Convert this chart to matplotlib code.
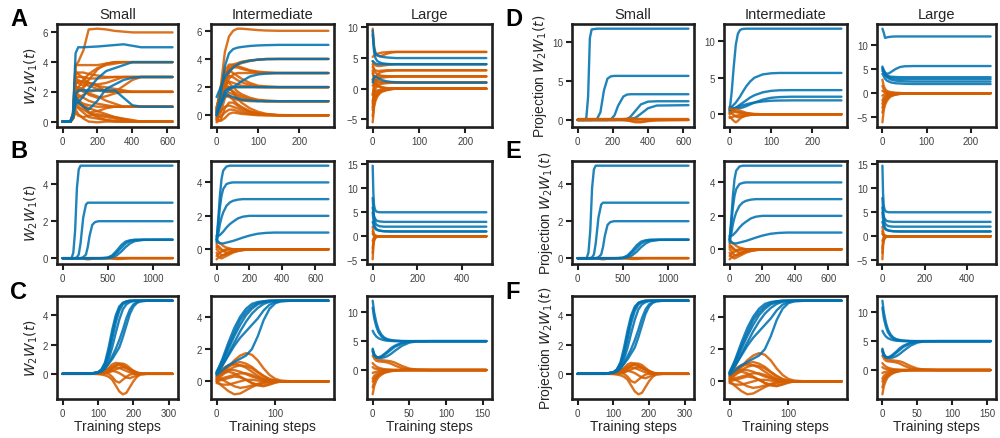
import matplotlib.pyplot as plt

BLUE = '#0173b2'
ORANGE = '#d55e00'

# ---------------- A / D : first setting ----------------
t_a_small = [0, 45, 60, 75, 90, 120, 150, 200, 250, 300, 350, 400, 450, 500, 630]
blue_a_small = [
    [0, 0, 0.5, 4.6, 5.0, 5.0, 5.02, 5.05, 5.1, 5.15, 5.2, 5.1, 5.0, 5.0, 5.0],
    [0, 0, 0.3, 1.2, 1.3, 1.7, 2.2, 2.9, 3.4, 3.6, 3.8, 4.0, 4.0, 4.0, 4.0],
    [0, 0, 0.4, 1.9, 2.1, 2.1, 2.1, 2.1, 2.1, 2.1, 1.6, 1.1, 1.0, 1.0, 1.0],
    [0, 0, 0.3, 1.7, 1.3, 1.0, 0.8, 1.4, 2.2, 2.5, 2.8, 2.95, 3.0, 3.0, 3.0],
]
orange_a_small = [
    [0, 0, 0.6, 3.8, 4.0, 4.8, 6.2, 6.25, 6.2, 6.1, 6.05, 6.0, 6.0, 6.0, 6.0],
    [0, 0, 0.5, 3.8, 3.8, 3.8, 3.8, 3.8, 3.9, 4.0, 4.0, 4.0, 4.0, 4.0, 4.0],
    [0, 0, 0.4, 2.8, 2.6, 2.4, 2.8, 3.5, 3.9, 4.0, 4.0, 4.0, 4.0, 4.0, 4.0],
    [0, 0, 0.4, 3.0, 3.0, 3.0, 2.9, 2.9, 2.95, 3.0, 3.0, 3.0, 3.0, 3.0, 3.0],
    [0, 0, 0.3, 2.5, 2.7, 2.7, 2.6, 2.5, 2.6, 2.8, 3.0, 3.0, 3.0, 3.0, 3.0],
    [0, 0, 0.3, 1.8, 2.0, 2.3, 2.6, 2.4, 2.0, 2.0, 2.4, 2.8, 3.0, 3.0, 3.0],
    [0, 0, 0.4, 2.9, 2.8, 2.6, 2.4, 2.2, 2.1, 2.0, 2.0, 2.0, 2.0, 2.0, 2.0],
    [0, 0, 0.3, 2.2, 2.3, 2.2, 1.8, 1.6, 1.7, 1.9, 2.0, 2.0, 2.0, 2.0, 2.0],
    [0, 0, 0.3, 1.5, 1.6, 1.8, 2.0, 2.1, 2.0, 2.0, 2.0, 2.0, 2.0, 2.0, 2.0],
    [0, 0, 0.3, 2.0, 1.8, 1.6, 1.4, 1.2, 1.1, 1.0, 1.0, 1.0, 1.0, 1.0, 1.0],
    [0, 0, 0.2, 1.2, 1.0, 0.8, 0.6, 0.7, 0.9, 1.0, 1.0, 1.0, 1.0, 1.0, 1.0],
    [0, 0, 0.2, 1.5, 1.4, 1.2, 1.1, 1.0, 1.0, 1.0, 1.0, 1.0, 1.0, 1.0, 1.0],
    [0, 0, 0.2, 1.0, 0.9, 0.6, 0.3, 0.2, 0.1, 0.05, 0, 0, 0, 0, 0],
    [0, 0, 0.2, 0.8, 0.5, 0.2, 0.0, -0.05, 0, 0, 0, 0, 0, 0, 0],
    [0, 0, 0.3, 2.0, 1.5, 1.0, 0.6, 0.4, 0.3, 0.2, 0.1, 0, 0, 0, 0],
    [0, 0, 0.2, 1.4, 1.2, 1.0, 0.6, 0.3, 0.1, 0, 0, 0, 0, 0, 0],
    [0, 0, 0.3, 2.4, 2.2, 2.0, 1.9, 1.7, 1.4, 1.2, 1.0, 1.0, 1.0, 1.0, 1.0],
    [0, 0, 0.3, 3.2, 3.3, 3.3, 3.2, 3.1, 3.0, 3.0, 3.0, 3.0, 3.0, 3.0, 3.0],
    [0, 0, 0.2, 0.6, 0.4, 0.3, 0.4, 0.5, 0.4, 0.3, 0.2, 0.1, 0, 0, 0],
    [0, 0, 0.3, 2.0, 2.3, 2.8, 3.2, 3.6, 3.8, 3.9, 4.0, 4.0, 4.0, 4.0, 4.0],
    [0, 0, 0.4, 3.4, 3.2, 2.9, 2.6, 2.4, 2.3, 2.2, 2.1, 2.0, 2.0, 2.0, 2.0],
    [0, 0, 0.2, 1.2, 1.3, 1.1, 0.9, 0.7, 0.5, 0.3, 0.15, 0.05, 0, 0, 0],
]

t_a_mid = [0, 10, 20, 30, 40, 50, 60, 80, 100, 120, 150, 200, 270]
blue_a_mid = [
    [0.2, 1.5, 3.5, 4.4, 4.7, 4.8, 4.85, 4.92, 4.96, 4.98, 5.0, 5.0, 5.0],
    [1.3, 2.0, 2.7, 3.1, 3.4, 3.6, 3.75, 3.88, 3.95, 3.98, 4.0, 4.0, 4.0],
    [0.0, 0.8, 1.5, 1.8, 2.0, 2.2, 2.4, 2.75, 2.9, 2.96, 3.0, 3.0, 3.0],
    [0.1, 0.7, 1.4, 1.4, 1.3, 1.2, 1.1, 1.05, 1.0, 1.0, 1.0, 1.0, 1.0],
    [0.0, 0.9, 1.7, 1.95, 2.0, 2.0, 2.0, 2.0, 2.0, 2.0, 2.0, 2.0, 2.0],
]
orange_a_mid = [
    [0.3, 2.0, 4.5, 5.6, 6.0, 6.15, 6.15, 6.1, 6.05, 6.02, 6.0, 6.0, 6.0],
    [0.5, 1.5, 2.8, 3.4, 3.6, 3.7, 3.8, 3.9, 3.95, 4.0, 4.0, 4.0, 4.0],
    [-0.3, 0.8, 2.2, 3.0, 3.4, 3.6, 3.7, 3.85, 3.95, 4.0, 4.0, 4.0, 4.0],
    [0.4, 1.8, 3.2, 3.6, 3.6, 3.5, 3.4, 3.2, 3.1, 3.05, 3.0, 3.0, 3.0],
    [0.0, 1.5, 2.8, 3.3, 3.4, 3.4, 3.3, 3.15, 3.05, 3.0, 3.0, 3.0, 3.0],
    [-0.2, 0.8, 2.0, 2.6, 2.9, 3.0, 3.0, 3.0, 3.0, 3.0, 3.0, 3.0, 3.0],
    [0.5, 2.0, 3.0, 3.2, 3.0, 2.8, 2.6, 2.3, 2.1, 2.05, 2.0, 2.0, 2.0],
    [-0.1, 1.0, 2.1, 2.4, 2.3, 2.2, 2.1, 2.05, 2.0, 2.0, 2.0, 2.0, 2.0],
    [0.2, 1.2, 1.8, 2.0, 2.0, 2.0, 2.0, 2.0, 2.0, 2.0, 2.0, 2.0, 2.0],
    [0.4, 1.8, 2.5, 2.3, 2.0, 1.7, 1.5, 1.25, 1.1, 1.05, 1.0, 1.0, 1.0],
    [-0.4, 0.2, 1.2, 1.6, 1.5, 1.35, 1.2, 1.1, 1.05, 1.0, 1.0, 1.0, 1.0],
    [0.1, 0.9, 1.4, 1.3, 1.2, 1.1, 1.05, 1.0, 1.0, 1.0, 1.0, 1.0, 1.0],
    [0.3, 1.5, 2.2, 2.0, 1.6, 1.2, 0.9, 0.5, 0.25, 0.1, 0.02, 0, 0],
    [-0.5, -0.3, 0.5, 0.9, 0.9, 0.7, 0.5, 0.25, 0.1, 0.05, 0, 0, 0],
    [-0.3, -0.4, -0.2, 0.1, 0.2, 0.15, 0.1, 0.05, 0, 0, 0, 0, 0],
    [0.6, 1.2, 1.6, 1.4, 1.1, 0.8, 0.6, 0.3, 0.15, 0.05, 0, 0, 0],
    [0.0, 0.3, 0.6, 0.7, 0.6, 0.5, 0.35, 0.2, 0.1, 0.03, 0, 0, 0],
    [-0.2, -0.1, 0.2, 0.4, 0.4, 0.3, 0.2, 0.1, 0.05, 0, 0, 0, 0],
    [0.2, 1.3, 2.0, 1.9, 1.7, 1.5, 1.35, 1.15, 1.05, 1.0, 1.0, 1.0, 1.0],
    [0.0, 1.4, 2.5, 2.8, 2.7, 2.5, 2.35, 2.15, 2.05, 2.0, 2.0, 2.0, 2.0],
]

t_a_large = [0, 3, 6, 10, 15, 20, 30, 40, 50, 70, 100, 245]
blue_a_large = [
    [8.8, 6.5, 5.8, 5.5, 5.3, 5.2, 5.1, 5.05, 5.0, 5.0, 5.0, 5.0],
    [4.5, 4.3, 4.1, 4.0, 4.0, 4.0, 4.0, 4.0, 4.0, 4.0, 4.0, 4.0],
    [9.5, 6.0, 5.0, 4.5, 4.3, 4.15, 4.05, 4.0, 4.0, 4.0, 4.0, 4.0],
    [1.0, 2.0, 2.0, 1.8, 1.6, 1.4, 1.2, 1.1, 1.05, 1.0, 1.0, 1.0],
]
orange_a_large = [
    [9.8, 7.0, 5.8, 5.4, 5.3, 5.4, 5.7, 5.9, 6.0, 6.0, 6.0, 6.0],
    [5.2, 5.4, 5.6, 5.7, 5.8, 5.9, 5.95, 6.0, 6.0, 6.0, 6.0, 6.0],
    [4.5, 4.0, 3.8, 3.7, 3.7, 3.75, 3.85, 3.95, 4.0, 4.0, 4.0, 4.0],
    [3.5, 3.2, 3.0, 2.9, 2.9, 2.95, 3.0, 3.0, 3.0, 3.0, 3.0, 3.0],
    [-1.0, 0.8, 1.8, 2.3, 2.6, 2.75, 2.9, 2.95, 3.0, 3.0, 3.0, 3.0],
    [4.0, 3.0, 2.6, 2.4, 2.2, 2.1, 2.05, 2.0, 2.0, 2.0, 2.0, 2.0],
    [-2.5, 0.0, 1.0, 1.5, 1.7, 1.8, 1.9, 1.95, 2.0, 2.0, 2.0, 2.0],
    [1.5, 1.8, 1.9, 1.95, 2.0, 2.0, 2.0, 2.0, 2.0, 2.0, 2.0, 2.0],
    [2.5, 1.8, 1.5, 1.3, 1.2, 1.1, 1.05, 1.0, 1.0, 1.0, 1.0, 1.0],
    [-3.5, -1.0, 0.0, 0.5, 0.7, 0.8, 0.9, 0.95, 1.0, 1.0, 1.0, 1.0],
    [0.5, 0.8, 0.9, 0.95, 1.0, 1.0, 1.0, 1.0, 1.0, 1.0, 1.0, 1.0],
    [-5.5, -3.0, -2.0, -1.3, -0.8, -0.5, -0.25, -0.1, 0, 0, 0, 0],
    [-4.5, -2.5, -1.5, -1.0, -0.6, -0.4, -0.2, -0.05, 0, 0, 0, 0],
    [-2.0, -1.2, -0.8, -0.5, -0.3, -0.2, -0.1, 0, 0, 0, 0, 0],
    [1.5, 0.9, 0.6, 0.4, 0.25, 0.15, 0.05, 0, 0, 0, 0, 0],
    [-1.0, -0.6, -0.4, -0.3, -0.2, -0.1, -0.05, 0, 0, 0, 0, 0],
    [3.0, 1.6, 1.0, 0.6, 0.4, 0.25, 0.1, 0.05, 0, 0, 0, 0],
    [-3.0, -1.8, -1.2, -0.8, -0.5, -0.3, -0.15, -0.05, 0, 0, 0, 0],
]

t_d_small = [0, 40, 50, 60, 70, 80, 110, 130, 150, 170, 190, 210, 230, 260, 280, 300, 330, 360, 400, 450, 630]
blue_d_small = [
    [0, 0, 0.3, 3.0, 10.5, 11.6, 11.7, 11.7, 11.7, 11.7, 11.7, 11.7, 11.7, 11.7, 11.7, 11.7, 11.7, 11.7, 11.7, 11.7, 11.7],
    [0, 0, 0, 0, 0, 0, 0.1, 1.0, 3.8, 5.3, 5.6, 5.65, 5.65, 5.65, 5.65, 5.65, 5.65, 5.65, 5.65, 5.65, 5.65],
    [0, 0, 0, 0, 0, 0, 0, 0, 0, 0, 0.1, 0.6, 1.8, 3.0, 3.25, 3.3, 3.3, 3.3, 3.3, 3.3, 3.3],
    [0, 0, 0, 0, 0, 0, 0, 0, 0, 0, 0, 0, 0, 0, 0.1, 0.4, 1.2, 2.0, 2.35, 2.4, 2.4],
    [0, 0, 0, 0, 0, 0, 0, 0, 0, 0, 0, 0, 0, 0, 0, 0.1, 0.3, 0.8, 1.5, 1.85, 1.9],
]
orange_d_small = [
    [0.1, 0.1, 0.1, 0.1, 0.1, 0.1, 0.1, 0.1, 0.1, 0.1, 0.1, 0.1, 0.1, 0.1, 0.1, 0.1, 0.1, 0.1, 0.1, 0.1, 0.1],
    [0, 0, 0, 0, 0, 0, 0, 0, 0, 0, 0, 0, 0, 0, -0.05, -0.15, -0.3, -0.3, -0.15, -0.05, 0],
    [0.05, 0.05, 0.05, 0.05, 0.05, 0.05, 0.05, 0.05, 0.05, 0.05, 0.05, 0.05, 0.05, 0.0, -0.05, -0.1, -0.15, -0.2, -0.1, 0, 0.05],
    [0, 0, 0, 0, 0, 0, 0, 0, 0, 0, 0, 0, 0.05, 0.1, 0.15, 0.2, 0.15, 0.1, 0.05, 0, 0],
]

t_d_mid = [0, 5, 10, 15, 20, 25, 30, 40, 50, 60, 80, 100, 120, 150, 200, 270]
blue_d_mid = [
    [0.5, 3.0, 6.5, 9.5, 11.0, 11.5, 11.65, 11.7, 11.7, 11.7, 11.7, 11.7, 11.7, 11.7, 11.7, 11.7],
    [0.8, 1.0, 1.3, 1.6, 2.0, 2.4, 2.9, 3.8, 4.5, 5.0, 5.45, 5.6, 5.65, 5.65, 5.65, 5.65],
    [0.3, 0.5, 0.7, 0.9, 1.1, 1.3, 1.5, 1.9, 2.3, 2.6, 3.0, 3.2, 3.28, 3.3, 3.3, 3.3],
    [1.0, 0.9, 0.8, 0.8, 0.8, 0.85, 0.9, 1.1, 1.35, 1.6, 2.0, 2.25, 2.35, 2.4, 2.4, 2.4],
    [0.6, 0.7, 0.8, 0.9, 1.0, 1.1, 1.2, 1.35, 1.5, 1.6, 1.75, 1.85, 1.88, 1.9, 1.9, 1.9],
]
orange_d_mid = [
    [0.8, 0.7, 0.5, 0.4, 0.3, 0.25, 0.2, 0.1, 0.05, 0, 0, 0, 0, 0, 0, 0],
    [-0.3, -0.6, -0.9, -1.1, -0.9, -0.6, -0.4, -0.2, -0.1, -0.05, 0, 0, 0, 0, 0, 0],
    [0.0, 0.3, 0.6, 0.7, 0.6, 0.5, 0.4, 0.2, 0.1, 0.05, 0, 0, 0, 0, 0, 0],
    [-0.5, -0.4, -0.3, -0.2, -0.15, -0.1, -0.08, -0.05, 0, 0, 0, 0, 0, 0, 0, 0],
    [0.3, 0.1, -0.1, -0.3, -0.4, -0.35, -0.3, -0.15, -0.05, 0, 0, 0, 0, 0, 0, 0],
    [0.1, 0.2, 0.3, 0.3, 0.25, 0.2, 0.15, 0.1, 0.05, 0, 0, 0, 0, 0, 0, 0],
]

t_d_large = [0, 3, 6, 10, 15, 20, 30, 40, 50, 70, 100, 245]
blue_d_large = [
    [13.3, 12.5, 11.4, 11.5, 11.6, 11.65, 11.7, 11.7, 11.7, 11.7, 11.7, 11.7],
    [5.5, 4.8, 4.3, 4.0, 4.1, 4.4, 5.0, 5.4, 5.55, 5.6, 5.6, 5.6],
    [5.0, 4.5, 4.0, 3.7, 3.5, 3.4, 3.35, 3.3, 3.3, 3.3, 3.3, 3.3],
    [4.6, 4.2, 3.8, 3.5, 3.3, 3.1, 3.0, 2.95, 2.9, 2.9, 2.9, 2.9],
    [5.2, 4.5, 3.8, 3.3, 3.0, 2.8, 2.6, 2.5, 2.45, 2.4, 2.4, 2.4],
    [4.0, 3.5, 3.0, 2.6, 2.4, 2.2, 2.05, 2.0, 1.95, 1.9, 1.9, 1.9],
]
orange_d_large = [
    [2.8, 1.5, 0.9, 0.5, 0.3, 0.2, 0.1, 0.05, 0, 0, 0, 0],
    [-6.0, -3.5, -2.4, -1.6, -1.0, -0.6, -0.3, -0.15, -0.05, 0, 0, 0],
    [-4.0, -2.6, -1.8, -1.2, -0.8, -0.5, -0.25, -0.1, 0, 0, 0, 0],
    [-3.0, -2.0, -1.4, -0.9, -0.6, -0.4, -0.2, -0.1, 0, 0, 0, 0],
    [1.5, 0.8, 0.4, 0.2, 0.1, 0.05, 0, 0, 0, 0, 0, 0],
    [-1.5, -0.9, -0.6, -0.4, -0.25, -0.15, -0.05, 0, 0, 0, 0, 0],
    [-0.5, -0.3, -0.2, -0.1, 0, 0, 0, 0, 0, 0, 0, 0],
    [0.5, 0.3, 0.2, 0.1, 0.05, 0, 0, 0, 0, 0, 0, 0],
    [-2.2, -1.3, -0.9, -0.6, -0.4, -0.25, -0.1, -0.05, 0, 0, 0, 0],
]

# ---------------- B / E : second setting ----------------
t_b_small = [0, 100, 120, 140, 160, 180, 200, 230, 260, 280, 300, 330, 360, 400, 450, 500, 550, 600, 650, 700, 750, 800, 900, 1220]
blue_b_small = [
    [0, 0, 0.3, 1.5, 3.8, 4.8, 5.0, 5.0, 5.0, 5.0, 5.0, 5.0, 5.0, 5.0, 5.0, 5.0, 5.0, 5.0, 5.0, 5.0, 5.0, 5.0, 5.0, 5.0],
    [0, 0, 0, 0, 0.05, 0.2, 0.8, 2.2, 2.9, 3.0, 3.0, 3.0, 3.0, 3.0, 3.0, 3.0, 3.0, 3.0, 3.0, 3.0, 3.0, 3.0, 3.0, 3.0],
    [0, 0, 0, 0, 0, 0, 0, 0.05, 0.2, 0.6, 1.2, 1.8, 1.95, 2.0, 2.0, 2.0, 2.0, 2.0, 2.0, 2.0, 2.0, 2.0, 2.0, 2.0],
    [0, 0, 0, 0, 0, 0, 0, 0, 0, 0, 0, 0, 0, 0, 0, 0.02, 0.1, 0.3, 0.55, 0.8, 0.93, 0.98, 1.0, 1.0],
    [0, 0, 0, 0, 0, 0, 0, 0, 0, 0, 0, 0, 0, 0, 0, 0.0, 0.05, 0.15, 0.35, 0.6, 0.8, 0.92, 0.99, 1.0],
    [0, 0, 0, 0, 0, 0, 0, 0, 0, 0, 0, 0, 0, 0, 0.01, 0.03, 0.15, 0.4, 0.7, 0.9, 0.97, 1.0, 1.0, 1.0],
]
orange_b_small = [
    [0, 0, 0, 0, 0, 0, 0, -0.02, -0.05, -0.06, -0.05, -0.03, -0.01, 0, 0, 0, 0, 0, 0, 0, 0, 0, 0, 0],
    [0.02, 0.02, 0.02, 0.02, 0.02, 0.02, 0.02, 0.02, 0.02, 0.02, 0.02, 0.02, 0.02, 0.02, 0.02, 0.02, 0.02, 0.02, 0.02, 0.02, 0.02, 0.02, 0.02, 0.02],
    [0, 0, 0, 0, 0, 0, 0, 0, 0, 0, 0, 0, 0, 0, 0, 0, -0.02, -0.04, -0.04, -0.02, 0, 0, 0, 0],
]

t_b_mid = [0, 10, 20, 30, 40, 60, 80, 100, 130, 160, 200, 250, 300, 350, 400, 680]
blue_b_mid = [
    [0.5, 1.8, 3.2, 4.2, 4.7, 4.95, 5.0, 5.0, 5.0, 5.0, 5.0, 5.0, 5.0, 5.0, 5.0, 5.0],
    [0.6, 1.5, 2.5, 3.2, 3.6, 3.9, 3.97, 4.0, 4.0, 4.0, 4.0, 4.0, 4.0, 4.0, 4.0, 4.0],
    [0.4, 0.9, 1.5, 1.9, 2.2, 2.6, 2.8, 2.9, 2.97, 3.0, 3.0, 3.0, 3.0, 3.0, 3.0, 3.0],
    [0.8, 0.8, 0.85, 0.95, 1.05, 1.3, 1.5, 1.65, 1.85, 1.95, 2.0, 2.0, 2.0, 2.0, 2.0, 2.0],
    [0.6, 0.45, 0.38, 0.35, 0.35, 0.4, 0.45, 0.5, 0.6, 0.7, 0.82, 0.93, 0.98, 1.0, 1.0, 1.0],
]
orange_b_mid = [
    [0.3, 0.4, 0.35, 0.3, 0.2, 0.1, 0.05, 0, 0, 0, 0, 0, 0, 0, 0, 0],
    [-0.2, -0.4, -0.5, -0.55, -0.5, -0.4, -0.3, -0.2, -0.1, -0.05, 0, 0, 0, 0, 0, 0],
    [0.1, 0.2, 0.1, 0.0, -0.1, -0.2, -0.2, -0.15, -0.1, -0.05, 0, 0, 0, 0, 0, 0],
    [-0.4, -0.3, -0.2, -0.15, -0.1, -0.05, 0, 0, 0, 0, 0, 0, 0, 0, 0, 0],
    [0.0, -0.1, -0.25, -0.35, -0.35, -0.3, -0.2, -0.1, -0.05, 0, 0, 0, 0, 0, 0, 0],
    [0.2, 0.1, 0.0, -0.05, -0.05, 0, 0, 0, 0, 0, 0, 0, 0, 0, 0, 0],
    [-0.6, -0.5, -0.45, -0.4, -0.35, -0.25, -0.15, -0.08, -0.03, 0, 0, 0, 0, 0, 0, 0],
]

t_b_large = [0, 3, 6, 10, 15, 20, 30, 50, 80, 510]
blue_b_large = [
    [14.7, 9.0, 6.5, 5.6, 5.2, 5.1, 5.0, 5.0, 5.0, 5.0],
    [6.0, 5.0, 4.2, 3.7, 3.4, 3.2, 3.1, 3.0, 3.0, 3.0],
    [8.0, 5.5, 4.0, 3.0, 2.5, 2.3, 2.1, 2.0, 2.0, 2.0],
    [5.0, 3.5, 2.6, 2.0, 1.6, 1.4, 1.2, 1.05, 1.0, 1.0],
    [3.0, 2.5, 2.0, 1.7, 1.4, 1.3, 1.15, 1.05, 1.0, 1.0],
]
orange_b_large = [
    [2.0, 1.0, 0.5, 0.2, 0.1, 0.05, 0, 0, 0, 0],
    [-4.8, -2.0, -1.0, -0.5, -0.2, -0.1, 0, 0, 0, 0],
    [-2.5, -1.2, -0.6, -0.3, -0.15, -0.05, 0, 0, 0, 0],
    [1.0, 0.5, 0.2, 0.1, 0.05, 0, 0, 0, 0, 0],
    [-1.0, -0.5, -0.2, -0.1, 0, 0, 0, 0, 0, 0],
    [0.5, 0.3, 0.1, 0, 0, 0, 0, 0, 0, 0],
    [-3.5, -1.5, -0.8, -0.4, -0.2, -0.1, 0, 0, 0, 0],
]

# ---------------- C / F : third setting ----------------
t_c_small = [0, 80, 100, 110, 120, 130, 140, 150, 160, 170, 180, 190, 200, 210, 220, 240, 310]
blue_c_small = [
    [0, 0.02, 0.1, 0.3, 0.8, 1.8, 3.0, 4.0, 4.6, 4.85, 4.95, 5.0, 5.0, 5.0, 5.0, 5.0, 5.0],
    [0, 0.02, 0.1, 0.25, 0.6, 1.3, 2.4, 3.5, 4.3, 4.75, 4.9, 4.97, 5.0, 5.0, 5.0, 5.0, 5.0],
    [0, 0.02, 0.08, 0.2, 0.5, 1.0, 1.8, 2.8, 3.7, 4.4, 4.75, 4.9, 4.97, 5.0, 5.0, 5.0, 5.0],
    [0, 0.02, 0.08, 0.15, 0.35, 0.7, 1.2, 1.7, 2.3, 3.0, 3.8, 4.4, 4.75, 4.9, 4.97, 5.0, 5.0],
    [0, 0.02, 0.1, 0.2, 0.4, 0.7, 1.0, 1.4, 1.8, 2.5, 3.3, 4.1, 4.6, 4.85, 4.95, 5.0, 5.0],
    [0, 0.02, 0.1, 0.3, 0.7, 1.5, 2.7, 3.8, 4.5, 4.85, 4.95, 5.0, 5.0, 5.0, 5.0, 5.0, 5.0],
]
orange_c_small = [
    [0, 0, 0.05, 0.1, 0.2, 0.4, 0.65, 0.75, 0.7, 0.6, 0.45, 0.3, 0.15, 0.05, 0, 0, 0],
    [0, 0, 0.05, 0.1, 0.2, 0.35, 0.5, 0.6, 0.6, 0.5, 0.4, 0.25, 0.12, 0.05, 0, 0, 0],
    [0, 0, 0.03, 0.05, 0.1, 0.2, 0.4, 0.55, 0.7, 0.7, 0.6, 0.4, 0.2, 0.08, 0.02, 0, 0],
    [0, 0, 0.02, 0.05, 0.05, 0.0, -0.2, -0.5, -0.6, -0.4, -0.2, -0.05, 0, 0, 0, 0, 0],
    [0, 0, -0.02, -0.05, -0.1, -0.2, -0.4, -0.8, -1.2, -1.4, -1.3, -0.9, -0.5, -0.2, -0.05, 0, 0],
    [0, 0, 0.02, 0.05, 0.1, 0.15, 0.2, 0.15, 0.05, -0.1, -0.25, -0.3, -0.2, -0.1, -0.02, 0, 0],
    [0, 0, 0.02, 0.05, 0.1, 0.2, 0.35, 0.45, 0.4, 0.3, 0.2, 0.1, 0.05, 0, 0, 0, 0],
    [0, 0, 0.02, 0.03, 0.05, 0.1, 0.2, 0.3, 0.4, 0.45, 0.4, 0.3, 0.2, 0.1, 0.03, 0, 0],
]

t_c_mid = [0, 10, 20, 30, 40, 50, 60, 70, 80, 90, 100, 110, 130, 190]
blue_c_mid = [
    [0.5, 1.4, 2.4, 3.3, 4.0, 4.5, 4.8, 4.92, 4.97, 5.0, 5.0, 5.0, 5.0, 5.0],
    [0.55, 1.2, 2.0, 2.8, 3.5, 4.1, 4.5, 4.78, 4.9, 4.97, 5.0, 5.0, 5.0, 5.0],
    [0.45, 1.0, 1.7, 2.4, 3.1, 3.7, 4.2, 4.55, 4.8, 4.93, 4.98, 5.0, 5.0, 5.0],
    [0.5, 1.0, 1.6, 2.2, 2.7, 3.1, 3.5, 3.9, 4.4, 4.75, 4.92, 4.98, 5.0, 5.0],
    [0.4, 0.7, 1.0, 1.2, 1.4, 1.6, 2.0, 2.8, 3.8, 4.5, 4.85, 4.96, 5.0, 5.0],
    [0.6, 1.3, 2.2, 3.0, 3.8, 4.3, 4.65, 4.85, 4.95, 5.0, 5.0, 5.0, 5.0, 5.0],
]
orange_c_mid = [
    [0.2, 0.5, 0.9, 1.3, 1.6, 1.75, 1.65, 1.3, 0.8, 0.4, 0.15, 0.05, 0, 0],
    [0.3, 0.6, 0.9, 1.1, 1.2, 1.1, 0.9, 0.6, 0.35, 0.15, 0.05, 0, 0, 0],
    [0.1, 0.4, 0.7, 0.9, 1.0, 0.95, 0.8, 0.55, 0.3, 0.12, 0.04, 0, 0, 0],
    [0.0, -0.3, -0.6, -0.8, -0.75, -0.55, -0.35, -0.2, -0.1, -0.05, 0, 0, 0, 0],
    [0.2, 0.1, -0.1, -0.3, -0.4, -0.35, -0.25, -0.15, -0.05, 0, 0, 0, 0, 0],
    [0.4, 0.6, 0.7, 0.7, 0.6, 0.45, 0.3, 0.18, 0.08, 0.03, 0, 0, 0, 0],
    [0.1, 0.2, 0.3, 0.4, 0.5, 0.5, 0.4, 0.25, 0.12, 0.05, 0, 0, 0, 0],
    [-0.1, -0.2, -0.2, -0.1, 0.0, 0.1, 0.1, 0.05, 0, 0, 0, 0, 0, 0],
    [0.3, 0.5, 0.6, 0.5, 0.3, 0.1, -0.1, -0.25, -0.3, -0.2, -0.08, 0, 0, 0],
    [0.0, 0.1, 0.2, 0.3, 0.25, 0.1, -0.1, -0.2, -0.25, -0.15, -0.05, 0, 0, 0],
    [0.5, 0.8, 1.0, 1.05, 1.0, 0.85, 0.6, 0.35, 0.15, 0.05, 0, 0, 0, 0],
]

t_c_large = [0, 2, 5, 8, 12, 16, 20, 25, 30, 40, 50, 60, 80, 155]
blue_c_large = [
    [12.0, 10.0, 8.2, 7.0, 6.1, 5.6, 5.35, 5.2, 5.1, 5.02, 5.0, 5.0, 5.0, 5.0],
    [10.8, 9.0, 7.5, 6.5, 5.8, 5.4, 5.2, 5.1, 5.05, 5.0, 5.0, 5.0, 5.0, 5.0],
    [6.8, 6.3, 5.8, 5.5, 5.3, 5.15, 5.08, 5.03, 5.0, 5.0, 5.0, 5.0, 5.0, 5.0],
    [3.7, 2.8, 2.3, 2.2, 2.3, 2.6, 3.0, 3.5, 4.0, 4.6, 4.9, 4.98, 5.0, 5.0],
    [3.2, 2.5, 2.2, 2.2, 2.4, 2.8, 3.2, 3.8, 4.2, 4.75, 4.95, 5.0, 5.0, 5.0],
    [3.5, 2.6, 2.2, 2.1, 2.1, 2.2, 2.4, 2.8, 3.3, 4.2, 4.75, 4.95, 5.0, 5.0],
]
orange_c_large = [
    [3.3, 2.5, 2.0, 1.8, 1.7, 1.65, 1.6, 1.5, 1.3, 0.7, 0.25, 0.08, 0, 0],
    [2.5, 2.0, 1.6, 1.5, 1.45, 1.4, 1.3, 1.1, 0.8, 0.3, 0.1, 0.03, 0, 0],
    [-4.2, -2.8, -1.8, -1.2, -0.8, -0.5, -0.35, -0.2, -0.1, -0.03, 0, 0, 0, 0],
    [-3.0, -2.0, -1.3, -0.9, -0.6, -0.4, -0.25, -0.15, -0.08, 0, 0, 0, 0, 0],
    [1.2, 0.9, 0.6, 0.4, 0.25, 0.15, 0.1, 0.05, 0, 0, 0, 0, 0, 0],
    [-1.5, -1.0, -0.7, -0.5, -0.35, -0.2, -0.1, -0.05, 0, 0, 0, 0, 0, 0],
    [0.5, 0.3, 0.2, 0.1, 0.05, 0, 0, 0, 0, 0, 0, 0, 0, 0],
    [-2.0, -1.5, -1.1, -0.8, -0.55, -0.35, -0.2, -0.1, -0.05, 0, 0, 0, 0, 0],
    [-0.5, -0.4, -0.3, -0.2, -0.1, -0.05, 0, 0, 0, 0, 0, 0, 0, 0],
]

# tick values per panel
xt_a = [[0, 200, 400, 600], [0, 100, 200], [0, 100, 200]]
yt_a = [[0, 2, 4, 6], [0, 2, 4, 6], [-5, 0, 5, 10]]
yt_d = [[0, 5, 10], [0, 5, 10], [-5, 0, 5, 10]]
xt_b = [[0, 500, 1000], [0, 200, 400, 600], [0, 200, 400]]
yt_b = [[0, 2, 4], [0, 2, 4], [-5, 0, 5, 10, 15]]
xt_c = [[0, 100, 200, 300], [0, 100], [0, 50, 100, 150]]
yt_c = [[0, 2, 4], [0, 2, 4], [0, 5, 10]]

titles = ['Small', 'Intermediate', 'Large']

plt.rcParams.update({
    'font.family': ['Liberation Sans', 'DejaVu Sans'],
    'mathtext.fontset': 'dejavusans',
    'text.color': '0.15',
    'axes.labelcolor': '0.15',
    'axes.edgecolor': '0.12',
    'axes.linewidth': 1.9,
    'xtick.color': '0.12',
    'ytick.color': '0.12',
    'xtick.labelcolor': '0.25',
    'ytick.labelcolor': '0.25',
    'xtick.major.size': 4,
    'ytick.major.size': 4,
    'xtick.major.width': 1.5,
    'ytick.major.width': 1.5,
    'xtick.labelsize': 7,
    'ytick.labelsize': 7,
    'xtick.major.pad': 2.5,
    'ytick.major.pad': 2.5,
})

W, H = 1000, 439
fig = plt.figure(figsize=(W / 100, H / 100), dpi=100)

col_x = [57, 211, 367, 572, 724, 877]
col_w = [121, 123, 125, 122, 123, 119]
row_top = [25, 162, 297]
row_h = 103


def make_ax(col, row):
    return fig.add_axes([col_x[col] / W, 1 - (row_top[row] + row_h) / H,
                         col_w[col] / W, row_h / H])


def draw(ax, t, blues, oranges, xticks, yticks, orange_on_top=False):
    groups = [(blues, BLUE), (oranges, ORANGE)] if orange_on_top else [(oranges, ORANGE), (blues, BLUE)]
    for curves, color in groups:
        for y in curves:
            ax.plot(t, y, color=color, lw=1.7, alpha=0.88, solid_capstyle='round')
    ax.set_xticks(xticks)
    ax.set_yticks(yticks)


left_rows = [
    ([t_a_small, t_a_mid, t_a_large], [blue_a_small, blue_a_mid, blue_a_large],
     [orange_a_small, orange_a_mid, orange_a_large], xt_a, yt_a, False),
    ([t_b_small, t_b_mid, t_b_large], [blue_b_small, blue_b_mid, blue_b_large],
     [orange_b_small, orange_b_mid, orange_b_large], xt_b, yt_b, False),
    ([t_c_small, t_c_mid, t_c_large], [blue_c_small, blue_c_mid, blue_c_large],
     [orange_c_small, orange_c_mid, orange_c_large], xt_c, yt_c, False),
]
right_rows = [
    ([t_d_small, t_d_mid, t_d_large], [blue_d_small, blue_d_mid, blue_d_large],
     [orange_d_small, orange_d_mid, orange_d_large], xt_a, yt_d, True),
    left_rows[1],
    left_rows[2],
]

for block, rows, ylab in [(0, left_rows, r'$W_2W_1(t)$'),
                          (1, right_rows, r'Projection $W_2W_1(t)$')]:
    for r, (ts, bls, ors, xts, yts, otop) in enumerate(rows):
        for c in range(3):
            ax = make_ax(block * 3 + c, r)
            draw(ax, ts[c], bls[c], ors[c], xts[c], yts[c], otop)
            if r == 0:
                ax.set_title(titles[c], fontsize=10.5, pad=4)
            if r == 2:
                ax.set_xlabel('Training steps', fontsize=10, labelpad=1)
            if c == 0:
                ax.set_ylabel(ylab, fontsize=10, labelpad=2)

for letter, x, y in [('A', 10, 8), ('B', 10, 140), ('C', 10, 281),
                     ('D', 505, 8), ('E', 505, 140), ('F', 505, 281)]:
    fig.text(x / W, 1 - y / H, letter, fontsize=17, fontweight='bold',
             ha='left', va='top', color='black')

fig.savefig('out.png', dpi=100)
